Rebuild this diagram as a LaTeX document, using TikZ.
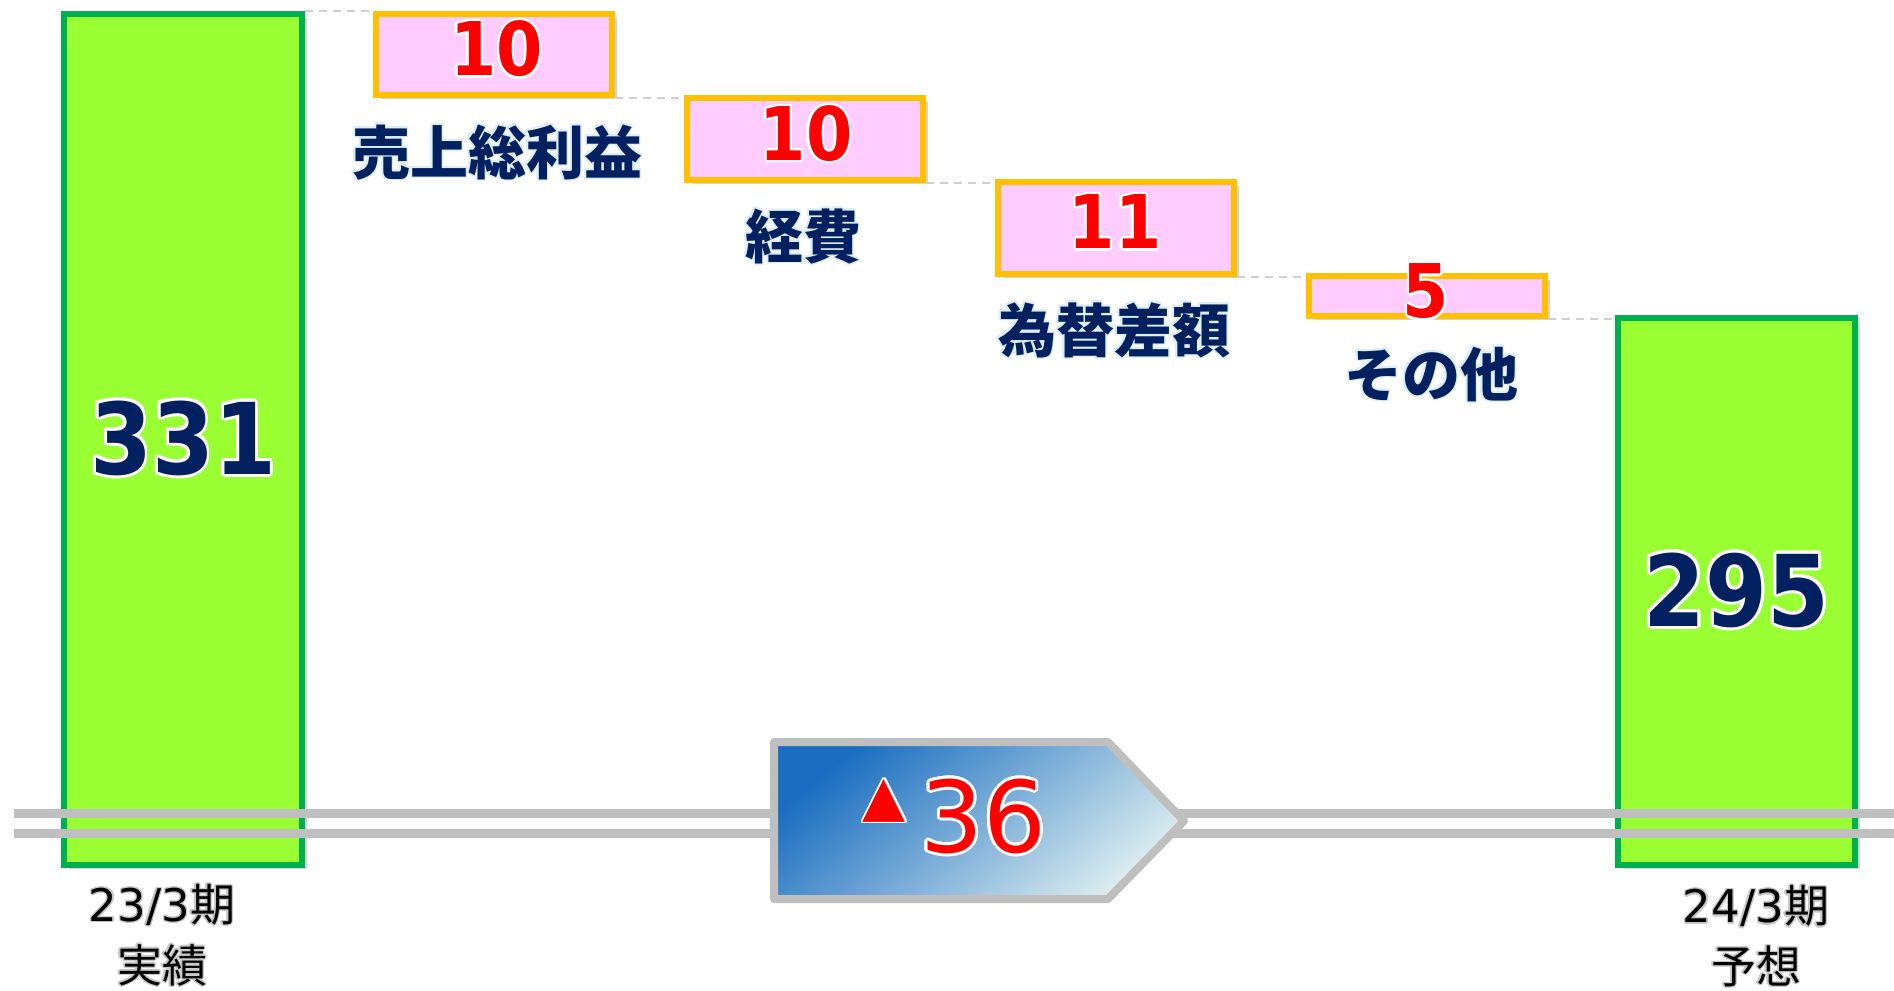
\documentclass[tikz,border=0pt]{standalone}
\usepackage{fontspec}
\usepackage[copies]{contour}
\usetikzlibrary{shadows}
\newfontfamily\jp{Noto Sans CJK JP}
\newfontfamily\dvs{DejaVu Sans}
\newfontfamily\numb{DejaVu Sans Bold}[FakeStretch=0.9]
\definecolor{navy}{HTML}{002060}
\definecolor{barfill}{HTML}{99FF33}
\definecolor{bardraw}{HTML}{00B050}
\definecolor{pinkfill}{HTML}{FFCCFF}
\definecolor{orangedraw}{HTML}{FFC000}
\definecolor{railgray}{HTML}{BFBFBF}
\definecolor{dashgray}{HTML}{D0D0D0}
\definecolor{arrowdark}{HTML}{1A6DC0}
\definecolor{arrowlight}{HTML}{DAECEF}
\definecolor{glowblue}{HTML}{DDEEF5}
\definecolor{glowgray}{HTML}{C8C8C8}
\contourlength{0.03em}
\tikzset{
  sz/.style 2 args={minimum width=#1*0.5pt, minimum height=#2*0.5pt, inner sep=0pt},
  shad/.style={drop shadow={shadow xshift=2.5pt, shadow yshift=-2pt, opacity=0.35}},
  barbox/.style={draw=bardraw, fill=barfill, line width=3pt, shad},
  pinkbox/.style={draw=orangedraw, fill=pinkfill, line width=3.2pt, shad},
  linkdash/.style={draw=dashgray, line width=0.8pt, dash pattern=on 4pt off 3pt},
  rail/.style={draw=railgray, line width=4.5pt},
  bignum/.style={font=\numb\fontsize{49.5pt}{55pt}\selectfont, text=navy},
  delta/.style={font=\numb\fontsize{37pt}{40pt}\selectfont, text=red, inner sep=0pt},
  item/.style={font=\jp\bfseries\fontsize{29pt}{32pt}\selectfont, text=navy, inner sep=0pt},
  period/.style={font=\jp\fontsize{22.5pt}{26pt}\selectfont, text=black, inner sep=0pt},
}
\begin{document}
\begin{tikzpicture}[x=0.5pt,y=-0.5pt]
\useasboundingbox (0,0) rectangle (1894,990);
% bars
\node[barbox, sz={238}{851}, bignum] (b0) at (183,439.5) {\contour{white}{331}};
\node[barbox, sz={237}{547}, bignum] (b5) at (1736.5,591.5) {\contour{white}{295}};
% pink boxes
\node[pinkbox, sz={236}{81}] (p1) at (494,54.5) {};
\node[pinkbox, sz={236}{82}] (p2) at (805,139) {};
\node[pinkbox, sz={236}{92}] (p3) at (1116,228) {};
\node[pinkbox, sz={236}{40}] (p4) at (1427,296) {};
% dashed links
\draw[linkdash] (b0.north east) -- (b0.north east -| p1.west);
\draw[linkdash] (p1.south east) -- (p1.south east -| p2.west);
\draw[linkdash] (p2.south east) -- (p2.south east -| p3.west);
\draw[linkdash] (p3.south east) -- (p3.south east -| p4.west);
\draw[linkdash] (p4.south east) -- (p4.south east -| b5.west);
% numbers
\node[delta] (n1) at (496.5,50) {\contour{white}{10}};
\node[delta] (n2) at (806,134.5) {\contour{white}{10}};
\node[delta] (n3) at (1115,223) {\contour{white}{11}};
\node[delta] (n4) at (1426,292.5) {\contour{white}{5}};
% item labels
\node[item] (l1) at (497,153) {\contour{glowblue}{売上総利益}};
\node[item] (l2) at (803,237) {\contour{glowblue}{経費}};
\node[item] (l3) at (1114,331) {\contour{glowblue}{為替差額}};
\node[item] (l4) at (1431,375) {\contour{glowblue}{その他}};
% rails
\coordinate (ra1) at (14,813);
\coordinate (ra2) at (1894,813);
\coordinate (rb1) at (14,833);
\coordinate (rb2) at (1894,833);
\draw[rail] (ra1) -- (ra2);
\draw[rail] (rb1) -- (rb2);
% arrow
\path[draw=railgray, line width=4pt, line join=round, top color=arrowdark, bottom color=arrowlight, shading angle=40]
  (774,742) -- (1108,742) -- (1184,821) -- (1108,899) -- (774,899) -- cycle;
\node[font=\dvs\fontsize{28pt}{30pt}\selectfont, text=red, inner sep=0pt, anchor=south] (tri) at (884.5,824) {\contour{white}{▲}};
\node[font=\dvs\fontsize{49.5pt}{55pt}\selectfont, text=red, inner sep=0pt, anchor=south] (d36) at (983.5,857) {\contour{white}{36}};
% period labels
\node[period] (q1) at (162,905.5) {\contour{glowgray}{{\dvs 23/3}期}};
\node[period] (q2) at (162,966) {\contour{glowgray}{実績}};
\node[period] (q3) at (1756,907) {\contour{glowgray}{{\dvs 24/3}期}};
\node[period] (q4) at (1756,967) {\contour{glowgray}{予想}};
\end{tikzpicture}
\end{document}
